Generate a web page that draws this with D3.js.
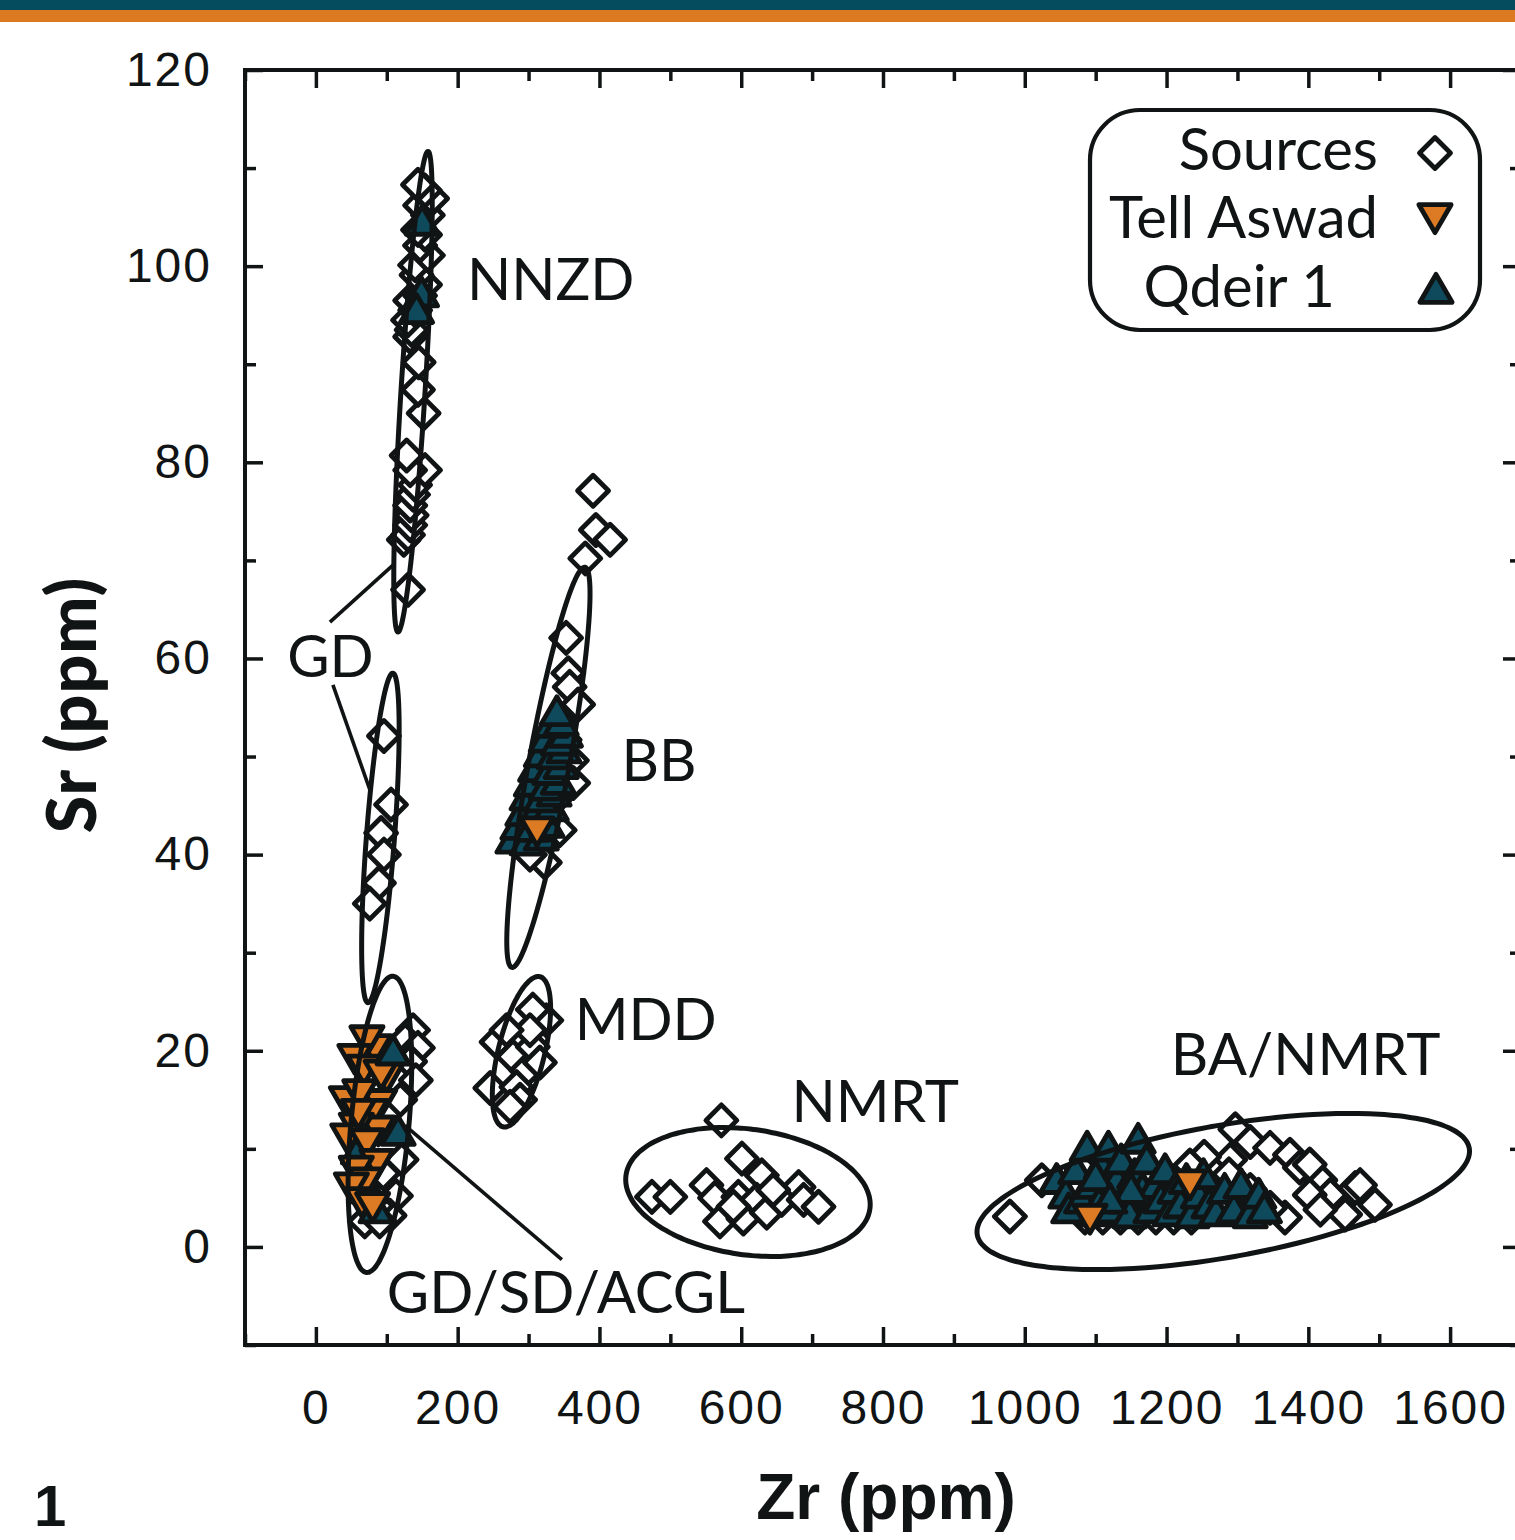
<!DOCTYPE html>
<html><head><meta charset="utf-8">
<script src="https://cdn.jsdelivr.net/npm/d3@7"></script>
<style>body{margin:0;background:#fff} svg{display:block}</style>
</head><body>
<svg id="chart" width="1515" height="1540"></svg>
<script>
// ---------- data ----------
const xMajorTicks = [0,200,400,600,800,1000,1200,1400,1600];
const xMinorTicks = [-100,100,300,500,700,900,1100,1300,1500,1700];
const yMajorTicks = [0,20,40,60,80,100,120];
const yMinorTicks = [-10,10,30,50,70,90,110];

const sourcesNNZD = [[130,67],[124,72.1],[130,72.6],[133,73.6],[135,74.6],[133,75.6],[137,76.7],[140,77.7],[154,79.2],[133,79.2],[128,80.7],[152,85],[144,87.4],[145,90.2],[133,92.8],[135,93.5],[130,94.5],[140,95.5],[133,96.5],[147,97],[154,98.1],[142,99.1],[140,100.1],[158,101.1],[147,102.1],[154,103.2],[144,103.7],[158,105.2],[147,106.2],[164,106.9],[154,107.7],[144,108.3]];
const sourcesGD = [[96,52.1],[106,45.1],[92,42.2],[96,40.0],[89,37.1],[76,35.0]];
const sourcesBB = [[391,77.1],[395,73.1],[415,72.1],[380,70.2],[353,62.1],[356,58.5],[358,57.1],[370,55.3],[344,53.7],[351,51.7],[361,49.6],[363,47.3],[337,45.6],[327,43.5],[316,41.5],[323,39.2],[302,40.0],[344,42.5],[333,48.6]];
const sourcesMDD = [[325,23.1],[306,24.2],[255,20.9],[246,16.2],[278,19.4],[297,18.0],[283,16.3],[306,20.4],[316,18.8],[288,15.0],[274,14.3],[302,22.1],[269,22.1]];
const sourcesGDSD = [[137,22.1],[126,21.1],[144,20.3],[133,18.9],[141,17.0],[119,15.0],[121,8.9],[113,5.2],[104,3.2],[95,7.5],[86,4.2],[69,2.6],[90,2.6]];
const sourcesNMRT = [[572,12.9],[601,9.0],[474,5.1],[500,5.1],[551,6.3],[563,5.0],[570,2.6],[596,5.1],[603,2.9],[629,7.3],[622,4.8],[636,3.5],[657,4.8],[681,6.1],[688,4.8],[709,4.1],[645,5.8],[589,4.1]];
const sourcesBANMRT = [[979,3.1],[1024,6.8],[1080,8],[1085,3],[1110,3],[1135,3],[1160,3],[1185,3],[1210,3],[1235,3],[1297,12.0],[1318,10.7],[1346,10.1],[1374,9.4],[1388,8.1],[1417,6.8],[1431,5.3],[1466,6.0],[1494,4.3],[1473,6.3],[1452,3.3],[1402,5.3],[1367,3.0],[1346,4.0],[1318,5.8],[1290,8.9],[1262,7.9],[1248,5.8],[1219,4.8],[1402,8.4],[1417,3.8],[1253,9.2],[1233,8.3],[1288,7.4]];

const tellAswad = [[312,42.8],[1092,3.3],[1233,6.8],
  [83,20.6],[72,21.5],[55,19.6],[68,18.5],[100,17.7],[90,15],[43,15.3],[62,16],[78,14],[88,12.3],[57,12.6],[45,11.5],[72,11],[86,8.9],[57,8.2],[70,7],[50,6.5],[65,5],[80,4.5],[92,18],[60,14]];

const qdeir1 = [[150,104.2],[149,96.9],[142,95.2],
  [75,5.5],[85,3.5],[60,9.5],
  [278,41.2],[298,41],[318,41.5],[285,42.6],[305,42.4],[326,42.8],[292,44],[312,44.2],[332,44.5],[298,45.6],[318,45.4],[336,46],[304,47],[325,46.6],[342,47.2],[310,48.5],[330,48.2],[346,48.8],[318,50],[336,49.8],[350,50.4],[325,51.5],[342,51.2],[352,52],[332,53],[346,53.2],[340,54.2],
  [1045,6.5],[1058,5],[1062,3.5],[1072,7.5],[1080,4.5],[1088,9.8],[1095,6],[1100,3.2],[1108,8],[1112,5],[1118,9.8],[1124,3.5],[1130,6.5],[1136,8.5],[1142,4.5],[1148,3],[1155,7],[1160,10.6],[1166,5.5],[1172,8.5],[1178,3.5],[1185,6],[1192,4.5],[1198,7.5],[1205,3.2],[1212,5.5],[1220,4],[1228,6.5],[1236,3],[1245,5],[1252,7],[1260,4],[1270,3.2],[1282,5.5],[1295,3.5],[1305,6],[1318,3],[1330,5],[1338,3.5],[1100,6.8],[1150,5.5],[1120,4.5]];
const qdeir1Top = [[109,19.6],[116,11.4]];

const ellipses = [
  {name:"NNZD", cx:137, cy:87.2, ax:21.2, ay:24.5, ratio:0.05},
  {name:"GD", cx:91, cy:41.7, ax:17.6, ay:16.8, ratio:0.085},
  {name:"BB", cx:328, cy:48.9, ax:51.5, ay:20.4, ratio:0.1},
  {name:"MDD", cx:290, cy:19.9, ax:26.1, ay:7.65, ratio:0.3},
  {name:"GD/SD/ACGL", cx:90.3, cy:12.5, ax:18.8, ay:15.1, ratio:0.195},
  {name:"NMRT", cx:609.5, cy:5.6, ax:172, ay:-1.73, ratio:0.51},
  {name:"BA/NMRT", cx:1280, cy:5.65, ax:347, ay:4.42, ratio:0.264}
];

const groupLabels = [
  {text:"NNZD", zr:213, sr:96.5},
  {text:"GD", zr:-40.5, sr:58.1},
  {text:"BB", zr:431, sr:47.5},
  {text:"MDD", zr:365, sr:21.1},
  {text:"NMRT", zr:671, sr:12.7},
  {text:"BA/NMRT", zr:1206, sr:17.5},
  {text:"GD/SD/ACGL", zr:100, sr:-6.7}
];
const leaderLines = [
  [[19.8,63.7],[111.5,69.7]],
  [[24,57.3],[76.2,46.6]],
  [[125.6,12.4],[347,-1.3]]
];

const legendItems = ["Sources","Tell Aswad","Qdeir 1"];

// ---------- drawing ----------
const TEAL = "#0e4a5c", ORANGE = "#dc7b24", INK = "#111414";
const MW = 4.8;
const svg = d3.select("#chart");

svg.append("rect").attr("x",0).attr("y",0).attr("width",1515).attr("height",10).attr("fill","#054d5e");
svg.append("rect").attr("x",0).attr("y",10).attr("width",1515).attr("height",12).attr("fill","#db7a20");

const x = d3.scaleLinear().domain([-100,1700]).range([245,1521]);
const y = d3.scaleLinear().domain([-10,120]).range([1345,70]);

const tickFont = "'Liberation Sans', Arial, sans-serif";

function styleAxis(g){
  g.select(".domain").remove();
  g.selectAll(".tick line").attr("stroke",INK).attr("stroke-width",3.5);
  g.selectAll(".tick text").attr("fill",INK).style("font-family",tickFont)
    .style("font-size","48px").style("letter-spacing","2px");
}

svg.append("g").attr("transform",`translate(0,${y(-10)})`)
  .call(d3.axisBottom(x).tickValues(xMajorTicks).tickSize(-18).tickPadding(45).tickFormat(d3.format("d")))
  .call(styleAxis);
svg.append("g").attr("transform",`translate(0,${y(-10)})`)
  .call(d3.axisBottom(x).tickValues(xMinorTicks).tickSize(-11).tickFormat(""))
  .call(styleAxis);
svg.append("g").attr("transform",`translate(0,${y(120)})`)
  .call(d3.axisTop(x).tickValues(xMajorTicks).tickSize(-18).tickFormat(""))
  .call(styleAxis);
svg.append("g").attr("transform",`translate(0,${y(120)})`)
  .call(d3.axisTop(x).tickValues(xMinorTicks).tickSize(-11).tickFormat(""))
  .call(styleAxis);
svg.append("g").attr("transform",`translate(${x(-100)},0)`)
  .call(d3.axisLeft(y).tickValues(yMajorTicks).tickSize(-18).tickPadding(33).tickFormat(d3.format("d")))
  .call(styleAxis);
svg.append("g").attr("transform",`translate(${x(-100)},0)`)
  .call(d3.axisLeft(y).tickValues(yMinorTicks).tickSize(-11).tickFormat(""))
  .call(styleAxis);
svg.append("g").attr("transform",`translate(${x(1700)},0)`)
  .call(d3.axisRight(y).tickValues(yMajorTicks).tickSize(-18).tickFormat(""))
  .call(styleAxis);
svg.append("g").attr("transform",`translate(${x(1700)},0)`)
  .call(d3.axisRight(y).tickValues(yMinorTicks).tickSize(-11).tickFormat(""))
  .call(styleAxis);

svg.append("rect").attr("x",x(-100)).attr("y",y(120))
  .attr("width",x(1700)-x(-100)).attr("height",y(-10)-y(120))
  .attr("fill","none").attr("stroke",INK).attr("stroke-width",4);

const diamond = d3.symbol(d3.symbolSquare, 480);
const tri = d3.symbol(d3.symbolTriangle, 450);

const sources = [].concat(sourcesNNZD, sourcesGD, sourcesBB, sourcesMDD, sourcesGDSD, sourcesNMRT, sourcesBANMRT);

const plot = svg.append("g");
plot.selectAll("path.src").data(sources).join("path").attr("class","src")
  .attr("d",diamond())
  .attr("transform",d=>`translate(${x(d[0])},${y(d[1])}) rotate(45)`)
  .attr("fill","#fff").attr("stroke",INK).attr("stroke-width",MW).attr("stroke-linejoin","round");

plot.selectAll("path.qd").data(qdeir1).join("path").attr("class","qd")
  .attr("d",tri())
  .attr("transform",d=>`translate(${x(d[0])},${y(d[1])})`)
  .attr("fill",TEAL).attr("stroke",INK).attr("stroke-width",MW).attr("stroke-linejoin","round");

plot.selectAll("path.ta").data(tellAswad).join("path").attr("class","ta")
  .attr("d",tri())
  .attr("transform",d=>`translate(${x(d[0])},${y(d[1])}) rotate(180)`)
  .attr("fill",ORANGE).attr("stroke",INK).attr("stroke-width",MW).attr("stroke-linejoin","round");

plot.selectAll("path.qd2").data(qdeir1Top).join("path").attr("class","qd2")
  .attr("d",tri())
  .attr("transform",d=>`translate(${x(d[0])},${y(d[1])})`)
  .attr("fill",TEAL).attr("stroke",INK).attr("stroke-width",MW).attr("stroke-linejoin","round");

function ellipsePath(e){
  const c = [x(e.cx), y(e.cy)];
  const A = [x(e.cx+e.ax)-c[0], y(e.cy+e.ay)-c[1]];
  const B = [-A[1]*e.ratio, A[0]*e.ratio];
  const pts = d3.range(0, 360, 3).map(t=>{
    const r = t*Math.PI/180;
    return [c[0]+A[0]*Math.cos(r)+B[0]*Math.sin(r), c[1]+A[1]*Math.cos(r)+B[1]*Math.sin(r)];
  });
  return d3.line().curve(d3.curveCardinalClosed)(pts);
}
svg.append("g").selectAll("path").data(ellipses).join("path")
  .attr("d",ellipsePath).attr("fill","none").attr("stroke",INK).attr("stroke-width",5);

svg.append("g").selectAll("line").data(leaderLines).join("line")
  .attr("x1",d=>x(d[0][0])).attr("y1",d=>y(d[0][1]))
  .attr("x2",d=>x(d[1][0])).attr("y2",d=>y(d[1][1]))
  .attr("stroke",INK).attr("stroke-width",3.6);

const labFont = "Lato, 'Open Sans', sans-serif";
svg.append("g").selectAll("text").data(groupLabels).join("text")
  .attr("x",d=>x(d.zr)).attr("y",d=>y(d.sr))
  .attr("fill",INK).style("font-family",labFont).style("font-size","58px")
  .text(d=>d.text);

svg.append("text").attr("x",886).attr("y",1519).attr("text-anchor","middle")
  .attr("fill",INK).style("font-family","'Liberation Sans', Arial, sans-serif")
  .style("font-weight","bold").style("font-size","64px").text("Zr (ppm)");
svg.append("text").attr("transform","translate(96,705) rotate(-90)").attr("text-anchor","middle")
  .attr("fill",INK).style("font-family",labFont).style("font-weight","900")
  .style("font-size","68px").style("letter-spacing","1px").text("Sr (ppm)");
svg.append("text").attr("x",34).attr("y",1526)
  .attr("fill",INK).style("font-family","'Liberation Sans', Arial, sans-serif")
  .style("font-weight","bold").style("font-size","58px").text("1");

const lg = svg.append("g");
lg.append("rect").attr("x",1090).attr("y",110).attr("width",390).attr("height",220)
  .attr("rx",50).attr("ry",50).attr("fill","#fff").attr("stroke",INK).attr("stroke-width",4.2);
const legendTextX = [1378,1378,1335];
const legendBase = [170,238,307];
lg.selectAll("text").data(legendItems).join("text")
  .attr("x",(d,i)=>legendTextX[i]).attr("y",(d,i)=>legendBase[i]).attr("text-anchor","end")
  .attr("fill",INK).style("font-family",labFont).style("font-size","58px").text(d=>d);
lg.append("path").attr("d",diamond()).attr("transform","translate(1435,153) rotate(45)")
  .attr("fill","#fff").attr("stroke",INK).attr("stroke-width",MW).attr("stroke-linejoin","round");
lg.append("path").attr("d",tri()).attr("transform","translate(1435,214) rotate(180)")
  .attr("fill",ORANGE).attr("stroke",INK).attr("stroke-width",MW).attr("stroke-linejoin","round");
lg.append("path").attr("d",tri()).attr("transform","translate(1436,293)")
  .attr("fill",TEAL).attr("stroke",INK).attr("stroke-width",MW).attr("stroke-linejoin","round");
</script>
</body></html>
